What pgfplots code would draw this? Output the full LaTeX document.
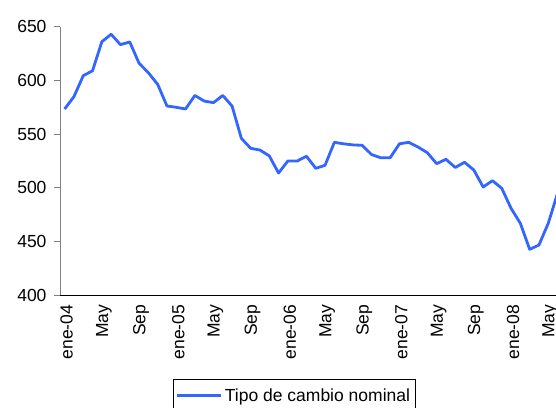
\documentclass[border=0pt]{standalone}
\usepackage{pgfplots}
\pgfplotsset{compat=1.18}
\usepackage{fontspec}
\setmainfont{Liberation Sans}
\newfontfamily\seriffont{Liberation Serif}
\definecolor{lineblue}{RGB}{51,102,255}
\begin{document}
\begin{tikzpicture}
\begin{axis}[
  at={(60bp,-295.3bp)}, anchor=south west,
  scale only axis, width=502.2bp, height=268.6bp,
  xmin=-0.5, xmax=53.5, ymin=400, ymax=650,
  axis x line*=bottom, axis y line*=left,
  axis line style={-},
  x axis line style={black},
  y axis line style={gray, line width=1bp},
  tick align=outside,
  ytick={400,450,...,650},
  ytick style={gray, line width=1bp},
  major tick length=6bp,
  xtick={0,4,...,52},
  xticklabels={ene-04,May,Sep,ene-05,May,Sep,ene-06,May,Sep,ene-07,May,Sep,ene-08,May},
  xtick style={draw=none},
  minor xtick={-0.5,0.5,...,53.5},
  minor tick length=5bp,
  minor x tick style={black, line width=0.8bp},
  x tick label style={rotate=90, anchor=east, yshift=0bp},
  tick label style={font=\fontsize{17.5bp}{20bp}\selectfont},
  /pgf/number format/assume math mode=true,
  yticklabel style={xshift=-4bp},
  xticklabel style={yshift=-2bp},
  clip=false,
  legend style={at={(axis description cs:0.2244,-0.3127)}, anchor=north west,
    draw=black, line width=0.8bp, font=\fontsize{17.5bp}{20bp}\selectfont,
    inner xsep=3bp, inner ysep=7bp},
  legend cell align=left,
  legend image code/.code={\draw[#1, line width=2.8bp] (0bp,0bp) -- (44bp,0bp);},
]
\addplot[lineblue, line width=2.8bp, line join=round] coordinates {
(0,573.4) (1,584.9) (2,604.4) (3,609) (4,636) (5,643) (6,633.3) (7,635.8)
(8,616) (9,607.2) (10,596.4) (11,576.2) (12,575) (13,573.4) (14,586) (15,580.8)
(16,579.3) (17,586) (18,576.2) (19,546.1) (20,536.8) (21,535.2) (22,529.8) (23,513.8)
(24,525) (25,525) (26,529.4) (27,518.2) (28,521) (29,542.4) (30,541) (31,540)
(32,539.6) (33,531) (34,528) (35,528) (36,541) (37,542.4) (38,538) (39,532.7)
(40,522.5) (41,526.6) (42,519) (43,523.8) (44,516.6) (45,500.8) (46,506.7) (47,499.6)
(48,481) (49,467) (50,442.8) (51,446.8) (52,467) (53,495)
};
\addlegendentry{Tipo de cambio nominal}
\end{axis}
\node[anchor=base, font=\seriffont\fontsize{17bp}{20bp}\selectfont, inner sep=0pt] at (290bp,4.5bp) {(Valores en pesos chilenos)};
\pgfresetboundingbox
\useasboundingbox (0bp,0bp) rectangle (556bp,-408bp);
\end{tikzpicture}
\end{document}
